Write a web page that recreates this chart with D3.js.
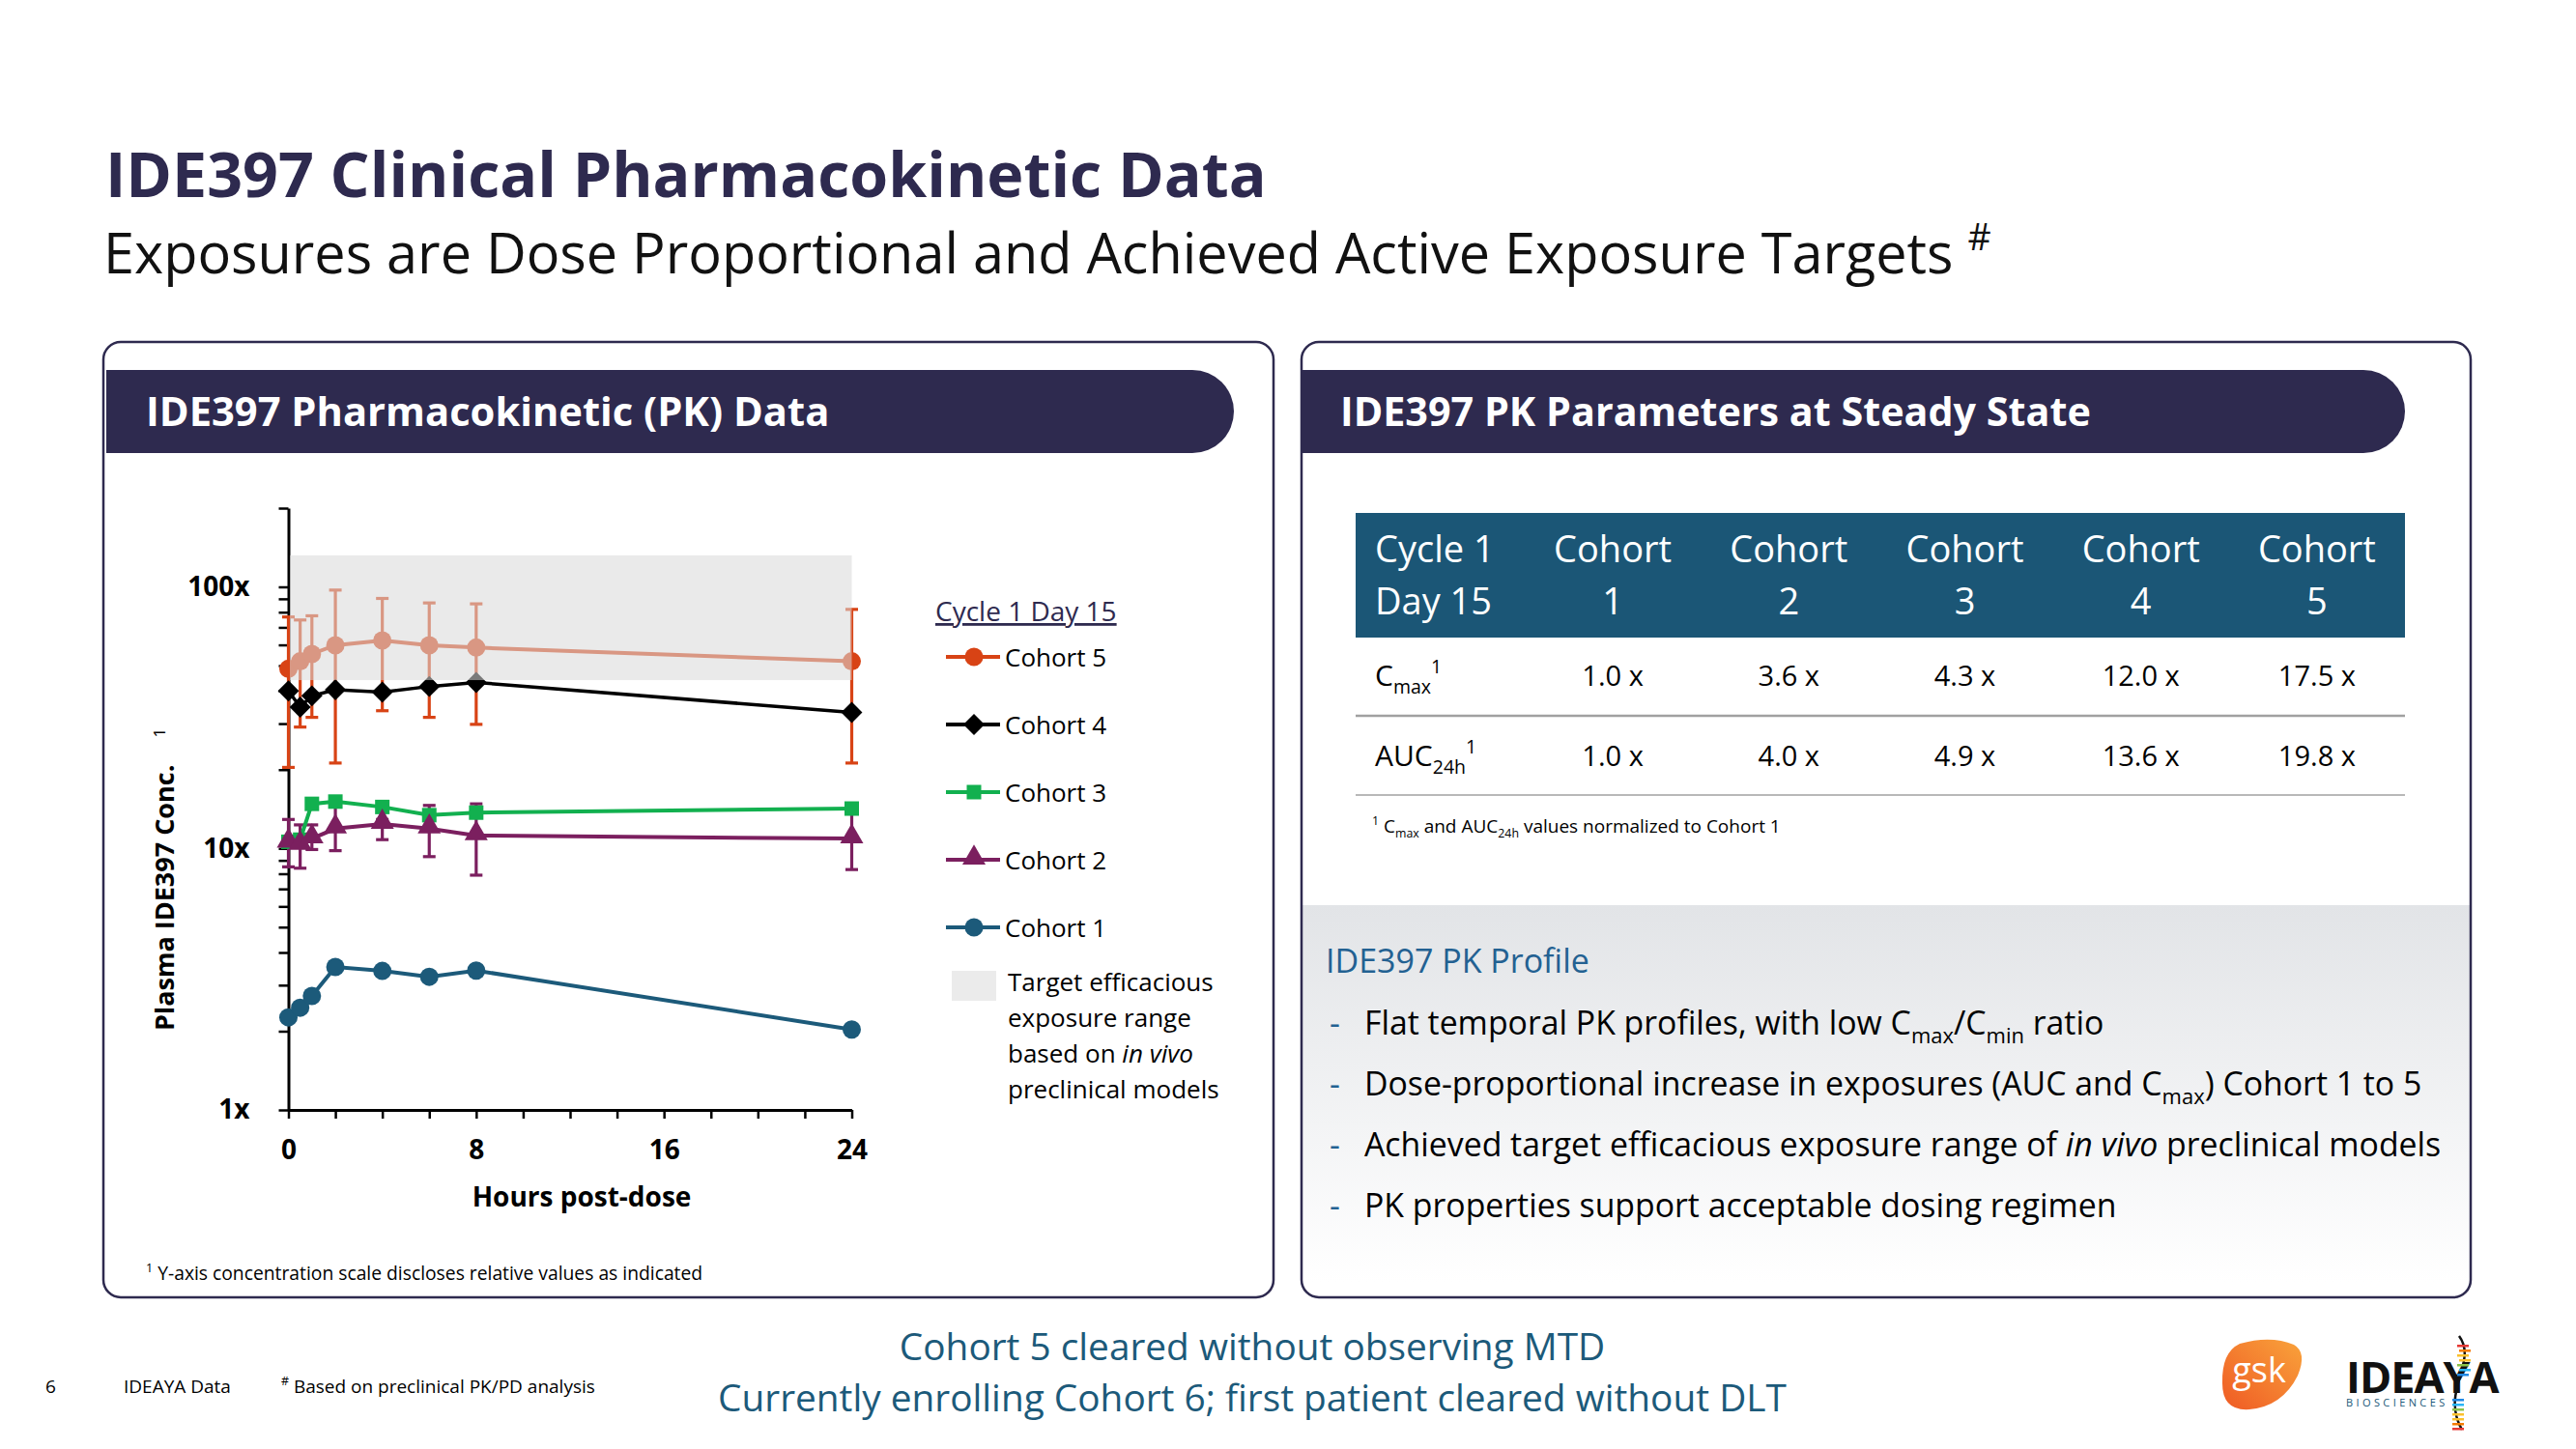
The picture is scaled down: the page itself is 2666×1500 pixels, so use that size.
<!DOCTYPE html>
<html><head><meta charset="utf-8">
<script src="https://cdn.jsdelivr.net/npm/d3@7/dist/d3.min.js"></script>
<style>body{margin:0;background:#fff;} svg{display:block;font-family:"Open Sans",sans-serif;}</style>
</head><body>
<script>
// ---------------- DATA ----------------
const hours = [0, 0.5, 1, 2, 4, 6, 8, 24];
const cohort5 = [48.6, 51.9, 55.4, 59.8, 62.4, 59.8, 58.6, 51.9];
const cohort5Upper = [76.7, 74.7, 77.5, 97.2, 90.3, 86.8, 86.1, 82.0];
const cohort5Lower = [20.4, 29.1, 31.7, 21.2, 33.6, 31.7, 29.8, 21.2];
const cohort4 = [40.0, 34.7, 38.3, 40.4, 39.6, 41.6, 43.1, 33.1];
const cohort3 = [10.6, 10.8, 14.8, 15.1, 14.4, 13.4, 13.7, 14.2];
const cohort2 = [10.5, 10.3, 10.9, 11.9, 12.4, 11.9, 11.2, 10.9];
const cohort2Upper = [12.9, 12.3, 12.3, 15.1, 12.9, 14.6, 14.8, 14.0];
const cohort2Lower = [8.5, 8.4, 9.9, 9.8, 10.8, 9.3, 7.9, 8.3];
const cohort1 = [2.26, 2.46, 2.73, 3.52, 3.40, 3.23, 3.41, 2.03];
const targetRange = [44, 132];
const cohortNames = ["Cohort 5", "Cohort 4", "Cohort 3", "Cohort 2", "Cohort 1"];
const yMajorTicks = [1, 10, 100];
const yTickLabels = ["1x", "10x", "100x"];
const xTickLabels = [0, 8, 16, 24];
const legendTitle = "Cycle 1 Day 15";
const targetLegend = ["Target efficacious", "exposure range", "based on |in vivo|", "preclinical models"];

const tableHeadFirst = ["Cycle 1", "Day 15"];
const tableCohorts = ["1", "2", "3", "4", "5"];
const cmaxValues = ["1.0 x", "3.6 x", "4.3 x", "12.0 x", "17.5 x"];
const aucValues = ["1.0 x", "4.0 x", "4.9 x", "13.6 x", "19.8 x"];

const bullets = [
  [["Flat temporal PK profiles, with low C"], ["max", "sub"], ["/C"], ["min", "sub"], [" ratio"]],
  [["Dose-proportional increase in exposures (AUC and C"], ["max", "sub"], [") Cohort 1 to 5"]],
  [["Achieved target efficacious exposure range of "], ["in vivo", "i"], [" preclinical models"]],
  [["PK properties support acceptable dosing regimen"]]
];
const bottomLines = ["Cohort 5 cleared without observing MTD", "Currently enrolling Cohort 6; first patient cleared without DLT"];

// ---------------- STYLE ----------------
const NAVY = "#2e2a4f";
const colors = {"Cohort 5": "#d84315", "Cohort 4": "#000000", "Cohort 3": "#12b04f", "Cohort 2": "#7b1f5f", "Cohort 1": "#1c5a7a"};
const symbols = {"Cohort 5": "circle", "Cohort 4": "diamond", "Cohort 3": "square", "Cohort 2": "triangle", "Cohort 1": "circle"};
const seriesData = {"Cohort 5": cohort5, "Cohort 4": cohort4, "Cohort 3": cohort3, "Cohort 2": cohort2, "Cohort 1": cohort1};
const errData = {"Cohort 5": [cohort5Upper, cohort5Lower], "Cohort 2": [cohort2Upper, cohort2Lower]};

const W = 2666, H = 1500;
const svg = d3.select("body").append("svg").attr("width", W).attr("height", H);

const defs = svg.append("defs");
const grad = defs.append("linearGradient").attr("id", "panelGrad").attr("x1", 0).attr("y1", 0).attr("x2", 0).attr("y2", 1);
grad.append("stop").attr("offset", "0%").attr("stop-color", "#e2e4e7");
grad.append("stop").attr("offset", "100%").attr("stop-color", "#ffffff");
const gskGrad = defs.append("linearGradient").attr("id", "gskGrad").attr("x1", 0).attr("y1", 1).attr("x2", 1).attr("y2", 0);
gskGrad.append("stop").attr("offset", "0%").attr("stop-color", "#ef5a24");
gskGrad.append("stop").attr("offset", "100%").attr("stop-color", "#f9a33b");

// rich text helper
function rich(g, x, y, segs, size, fill, opts = {}) {
  const t = g.append("text").attr("x", x).attr("y", y).attr("font-size", size).attr("fill", fill);
  if (opts.weight) t.attr("font-weight", opts.weight);
  if (opts.anchor) t.attr("text-anchor", opts.anchor);
  let cur = 0;
  segs.forEach(([s, kind]) => {
    let off = 0, fs = size;
    if (kind === "sub") { off = size * 0.28; fs = size * 0.65; }
    if (kind === "sup") { off = -size * 0.42; fs = size * 0.65; }
    const ts = t.append("tspan").text(s).attr("font-size", fs);
    if (off - cur !== 0) ts.attr("dy", off - cur);
    if (kind === "i") ts.attr("font-style", "italic");
    cur = off;
  });
  return t;
}

// ---------------- TITLES ----------------
svg.append("text").attr("x", 109).attr("y", 204).attr("font-size", 64.5).attr("font-weight", 700)
  .attr("fill", NAVY).text("IDE397 Clinical Pharmacokinetic Data");
rich(svg, 107, 283, [["Exposures are Dose Proportional and Achieved Active Exposure Targets "], ["#", "sup"]], 57.6, "#111");

// ---------------- CARDS ----------------
svg.append("rect").attr("x", 1348).attr("y", 937).attr("width", 1208).attr("height", 390).attr("fill", "url(#panelGrad)");
[[107, 1211], [1347, 1210]].forEach(([x, w]) => {
  svg.append("rect").attr("x", x).attr("y", 354).attr("width", w).attr("height", 989).attr("rx", 18)
    .attr("fill", "none").attr("stroke", NAVY).attr("stroke-width", 2.5);
});
function bar(x0, x1, y0, y1) {
  const r = (y1 - y0) / 2;
  return `M${x0},${y0}H${x1 - r}A${r},${r} 0 0 1 ${x1 - r},${y1}H${x0}Z`;
}
svg.append("path").attr("d", bar(110, 1277, 383, 469)).attr("fill", NAVY);
svg.append("path").attr("d", bar(1348, 2489, 383, 469)).attr("fill", NAVY);
svg.append("text").attr("x", 151).attr("y", 441).attr("font-size", 41.7).attr("font-weight", 700).attr("fill", "#fff")
  .text("IDE397 Pharmacokinetic (PK) Data");
svg.append("text").attr("x", 1387).attr("y", 441).attr("font-size", 41.3).attr("font-weight", 700).attr("fill", "#fff")
  .text("IDE397 PK Parameters at Steady State");

// ---------------- CHART ----------------
const x = d3.scaleLinear().domain([0, 24]).range([298.5, 881.5]);
const y = d3.scaleLog().domain([1, 200]).range([1149, 526]);
const chart = svg.append("g");

// axes
const yTickVals = [];
[1, 10, 100].forEach(d => { for (let k = 1; k <= 9; k++) { const v = d * k; if (v <= 200) yTickVals.push(v); } });
const yAxis = d3.axisLeft(y).tickValues(yTickVals).tickSize(10).tickSizeOuter(0).tickPadding(30)
  .tickFormat(d => { const i = yMajorTicks.indexOf(d); return i >= 0 ? yTickLabels[i] : ""; });
const gy = chart.append("g").attr("transform", `translate(${x(0)},0)`).call(yAxis);
const xAxis = d3.axisBottom(x).tickValues(d3.range(0, 25, 2)).tickSize(9).tickSizeOuter(0).tickPadding(22)
  .tickFormat(d => xTickLabels.includes(d) ? d : "");
const gx = chart.append("g").attr("transform", `translate(0,${y(1)})`).call(xAxis);
[gx, gy].forEach(g => {
  g.select(".domain").attr("stroke", "#000").attr("stroke-width", 3);
  g.selectAll(".tick line").attr("stroke", "#000").attr("stroke-width", 2.5);
  g.selectAll(".tick text").attr("font-size", 28).attr("font-weight", 700).attr("fill", "#000").attr("font-family", "Open Sans");
});

const symGen = {
  circle: d3.symbol().type(d3.symbolCircle).size(Math.PI * 9.5 * 9.5),
  diamond: d3.symbol().type(d3.symbolSquare).size(15.5 * 15.5),
  square: d3.symbol().type(d3.symbolSquare).size(15 * 15),
  triangle: d3.symbol().type(d3.symbolTriangle).size(250)
};
function drawMarker(g, name, cx, cy) {
  const s = symbols[name];
  g.append("path").attr("d", symGen[s]())
    .attr("transform", `translate(${cx},${cy})` + (s === "diamond" ? " rotate(45)" : "") + (s === "triangle" ? " translate(0,-2)" : ""))
    .attr("fill", colors[name]);
}

// error bars
Object.keys(errData).forEach(name => {
  const [up, lo] = errData[name];
  const g = chart.append("g").attr("stroke", colors[name]).attr("stroke-width", 3.2);
  hours.forEach((h, i) => {
    const cx = x(h);
    g.append("line").attr("x1", cx).attr("x2", cx).attr("y1", y(up[i])).attr("y2", y(lo[i]));
    g.append("line").attr("x1", cx - 6.5).attr("x2", cx + 6.5).attr("y1", y(up[i])).attr("y2", y(up[i]));
    g.append("line").attr("x1", cx - 6.5).attr("x2", cx + 6.5).attr("y1", y(lo[i])).attr("y2", y(lo[i]));
  });
});

// lines & markers
const lineGen = d3.line().x((d, i) => x(hours[i])).y(d => y(d));
cohortNames.forEach(name => {
  const g = chart.append("g");
  g.append("path").attr("d", lineGen(seriesData[name])).attr("fill", "none")
    .attr("stroke", colors[name]).attr("stroke-width", name === "Cohort 4" ? 3.5 : 4);
  seriesData[name].forEach((v, i) => drawMarker(g, name, x(hours[i]), y(v)));
});

// target range overlay (semi transparent)
chart.append("rect").attr("x", x(0) + 1.5).attr("width", x(24) - x(0) - 1.5)
  .attr("y", y(targetRange[1])).attr("height", y(targetRange[0]) - y(targetRange[1]))
  .attr("fill", "#d9d9d9").attr("opacity", 0.56);

// axis titles
chart.append("text").attr("x", (x(0) + x(24)) / 2 + 12).attr("y", 1249).attr("text-anchor", "middle")
  .attr("font-size", 28).attr("font-weight", 700).text("Hours post-dose");
const yt = chart.append("text").attr("transform", "translate(180,1067) rotate(-90)").attr("font-size", 27).attr("font-weight", 700);
yt.append("tspan").text("Plasma IDE397 Conc.");
yt.append("tspan").text("1").attr("font-size", 17).attr("font-weight", 400).attr("dx", 28).attr("dy", -9);

// legend
const lg = chart.append("g");
lg.append("text").attr("x", 968).attr("y", 643).attr("font-size", 28).attr("fill", NAVY)
  .attr("text-decoration", "underline").text(legendTitle);
cohortNames.forEach((name, i) => {
  const ly = 680 + i * 70;
  lg.append("line").attr("x1", 979).attr("x2", 1035).attr("y1", ly).attr("y2", ly)
    .attr("stroke", colors[name]).attr("stroke-width", 4);
  drawMarker(lg, name, 1008, ly);
  lg.append("text").attr("x", 1040).attr("y", ly + 9.5).attr("font-size", 26).attr("fill", "#000").text(name);
});
lg.append("rect").attr("x", 985).attr("y", 1005).attr("width", 46).attr("height", 31).attr("fill", "#ebebeb");
targetLegend.forEach((line, i) => {
  const parts = line.split("|");
  const segs = parts.map((p, k) => [p, k === 1 ? "i" : undefined]).filter(s => s[0].length);
  rich(lg, 1043, 1026 + i * 37, segs, 26, "#000");
});
rich(svg, 151, 1325, [["1", "sup"], [" Y-axis concentration scale discloses relative values as indicated"]], 19.3, "#000");

// ---------------- TABLE ----------------
const colBand = d3.scaleBand().domain(tableCohorts).range([1578, 2489]);
const tb = svg.append("g");
tb.append("rect").attr("x", 1403).attr("y", 531).attr("width", 1086).attr("height", 129).attr("fill", "#1b5676");
tableHeadFirst.forEach((t, i) => tb.append("text").attr("x", 1423).attr("y", 582 + i * 54).attr("font-size", 38).attr("fill", "#fff").text(t));
tableCohorts.forEach(c => {
  const cx = colBand(c) + colBand.bandwidth() / 2;
  tb.append("text").attr("x", cx).attr("y", 582).attr("text-anchor", "middle").attr("font-size", 38).attr("fill", "#fff").text("Cohort");
  tb.append("text").attr("x", cx).attr("y", 636).attr("text-anchor", "middle").attr("font-size", 38).attr("fill", "#fff").text(c);
});
rich(tb, 1423, 710, [["C"], ["max", "sub"], ["1", "sup"]], 30, "#000");
rich(tb, 1423, 793, [["AUC"], ["24h", "sub"], ["1", "sup"]], 30, "#000");
tableCohorts.forEach((c, i) => {
  const cx = colBand(c) + colBand.bandwidth() / 2;
  tb.append("text").attr("x", cx).attr("y", 710).attr("text-anchor", "middle").attr("font-size", 29).text(cmaxValues[i]);
  tb.append("text").attr("x", cx).attr("y", 793).attr("text-anchor", "middle").attr("font-size", 29).text(aucValues[i]);
});
tb.append("line").attr("x1", 1403).attr("x2", 2489).attr("y1", 741).attr("y2", 741).attr("stroke", "#a0a0a0").attr("stroke-width", 2.5);
tb.append("line").attr("x1", 1403).attr("x2", 2489).attr("y1", 823).attr("y2", 823).attr("stroke", "#a0a0a0").attr("stroke-width", 1.5);
rich(tb, 1420, 862, [["1", "sup"], [" C"], ["max", "sub"], [" and AUC"], ["24h", "sub"], [" values normalized to Cohort 1"]], 19, "#000");

// ---------------- PK PROFILE ----------------
const BLUE = "#236192";
svg.append("text").attr("x", 1372).attr("y", 1007).attr("font-size", 34).attr("fill", BLUE).text("IDE397 PK Profile");
bullets.forEach((segs, i) => {
  const by = 1071 + i * 63;
  svg.append("text").attr("x", 1376).attr("y", by).attr("font-size", 33.8).attr("fill", BLUE).text("-");
  rich(svg, 1412, by, segs, 33.8, "#000");
});

// ---------------- FOOTER ----------------
bottomLines.forEach((t, i) => svg.append("text").attr("x", 1296).attr("y", 1408 + i * 53).attr("text-anchor", "middle")
  .attr("font-size", 38.8).attr("fill", "#1c5a7a").text(t));
svg.append("text").attr("x", 47).attr("y", 1442).attr("font-size", 19).text("6");
svg.append("text").attr("x", 128).attr("y", 1442).attr("font-size", 19).text("IDEAYA Data");
rich(svg, 291, 1442, [["#", "sup"], [" Based on preclinical PK/PD analysis"]], 19, "#000");

// logos (simplified)
svg.append("path").attr("d", "M2318,1391 Q2350,1382 2374,1392 Q2388,1400 2378,1424 Q2362,1456 2328,1459 Q2300,1461 2300,1432 Q2299,1400 2318,1391Z")
  .attr("fill", "url(#gskGrad)");
svg.append("text").attr("x", 2338).attr("y", 1431).attr("text-anchor", "middle").attr("font-size", 36).attr("fill", "#fff").text("gsk");
svg.append("text").attr("x", 2428).attr("y", 1442).attr("font-size", 45).attr("font-weight", 700).attr("fill", "#111").attr("letter-spacing", -1).text("IDEAYA");
svg.append("text").attr("x", 2428).attr("y", 1456).attr("font-size", 11).attr("letter-spacing", 3.4).attr("fill", "#1c5a7a").text("BIOSCIENCES");
svg.append("path").attr("d", "M2545,1383 C2565,1410 2525,1440 2548,1480").attr("fill", "none").attr("stroke", "#111").attr("stroke-width", 2.5);
const helix = ["#e53935", "#f57c00", "#fbc02d", "#fbc02d", "#8bc34a", "#29b6f6", "#1e88e5"];
helix.forEach((c, i) => {
  svg.append("rect").attr("x", 2543 + (i % 2) * 2).attr("y", 1392 + i * 5).attr("width", 12).attr("height", 2.5).attr("fill", c);
  svg.append("rect").attr("x", 2538).attr("y", 1448 + i * 5).attr("width", 12).attr("height", 2.5).attr("fill", helix[helix.length - 1 - i]);
});
</script>
</body></html>
